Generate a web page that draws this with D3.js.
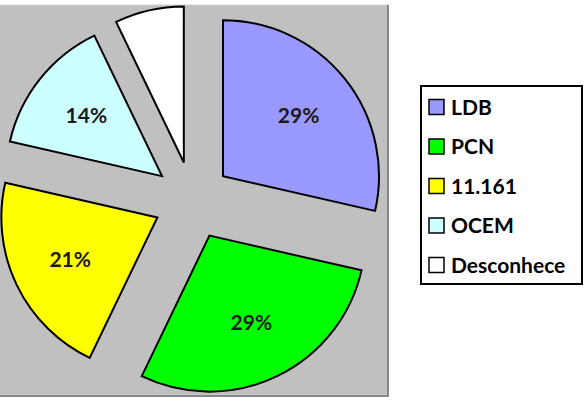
<!DOCTYPE html>
<html>
<head>
<meta charset="utf-8">
<script src="https://cdn.jsdelivr.net/npm/d3@7"></script>
<style>
	body { margin: 0; background: #fff; }
	svg { display: block; }
</style>
</head>
<body>
<div id="pie_chart"></div>
<script>
// chart data
var categories = ["LDB", "PCN", "11.161", "OCEM", "Desconhece"];
var counts = [4, 4, 3, 2, 1];
var colors = ["#9999ff", "#00ff00", "#ffff00", "#ccffff", "#ffffff"];
var showLabel = [true, true, true, true, false];

var width = 587,
	height = 411,
	cx = 192.5,
	cy = 200.5,
	radius = 156,
	explode = 39,
	fontFamily = "Lato, 'Open Sans', sans-serif";

var svg = d3.select("#pie_chart")
	.append("svg")
	.attr("width", width)
	.attr("height", height);

// plot area
svg.append("rect")
	.attr("x", -2)
	.attr("y", 5)
	.attr("width", 390)
	.attr("height", 390)
	.attr("fill", "#c0c0c0")
	.attr("stroke", "#d0d0d0")
	.attr("stroke-width", 1);
svg.append("path")
	.attr("d", "M388,5 L388,396 L-2,396")
	.attr("fill", "none")
	.attr("stroke", "#888")
	.attr("stroke-width", 2);

var total = d3.sum(counts);
var fmt = d3.format(".0%");

var pie = d3.pie().sort(null).value(function(d) { return d; });
var arcs = pie(counts);

var arc = d3.arc().innerRadius(0).outerRadius(radius);
var labelArc = d3.arc().innerRadius(radius * 0.62).outerRadius(radius * 0.62);

var slice = svg.append("g")
	.attr("transform", "translate(" + cx + "," + cy + ")")
	.selectAll("g")
	.data(arcs)
	.enter().append("g")
	.attr("transform", function(d) {
		var mid = (d.startAngle + d.endAngle) / 2;
		return "translate(" + (explode * Math.sin(mid)) + "," + (-explode * Math.cos(mid)) + ")";
	});

slice.append("path")
	.attr("d", arc)
	.attr("fill", function(d, i) { return colors[i]; })
	.attr("stroke", "#000")
	.attr("stroke-width", 2)
	.attr("stroke-linejoin", "miter");

slice.filter(function(d, i) { return showLabel[i]; })
	.append("text")
	.attr("transform", function(d) { return "translate(" + labelArc.centroid(d) + ")"; })
	.attr("text-anchor", "middle")
	.attr("dy", "0.36em")
	.style("font-family", fontFamily)
	.style("font-weight", "bold")
	.style("font-size", "21px")
	.style("fill", "#1a1a1a")
	.text(function(d) { return fmt(d.value / total); });

// legend
var legend = svg.append("g");
legend.append("rect")
	.attr("x", 421)
	.attr("y", 86)
	.attr("width", 161)
	.attr("height", 198)
	.attr("fill", "#fff")
	.attr("stroke", "#000")
	.attr("stroke-width", 2);

var item = legend.selectAll("g.item")
	.data(categories)
	.enter().append("g")
	.attr("class", "item")
	.attr("transform", function(d, i) { return "translate(0," + (107 + i * 39.5) + ")"; });

item.append("rect")
	.attr("x", 429)
	.attr("y", -7.5)
	.attr("width", 15)
	.attr("height", 15)
	.attr("fill", function(d, i) { return colors[i]; })
	.attr("stroke", "#000")
	.attr("stroke-width", 1.5);

item.append("text")
	.attr("x", 451)
	.attr("dy", "0.36em")
	.style("font-family", fontFamily)
	.style("font-weight", "bold")
	.style("font-size", "21px")
	.style("fill", "#000")
	.text(function(d) { return d; });
</script>
</body>
</html>
